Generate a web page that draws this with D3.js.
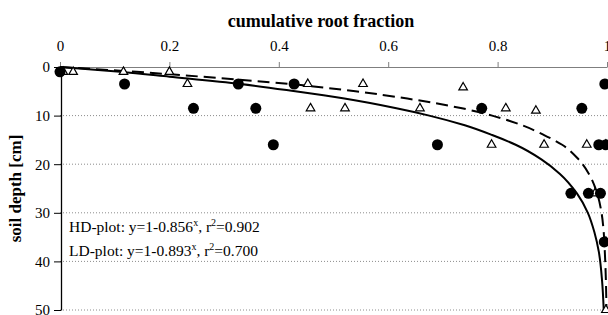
<!DOCTYPE html>
<html>
<head>
<meta charset="utf-8">
<script src="https://cdn.jsdelivr.net/npm/d3@7"></script>
<style>
  body { margin: 0; background: #fff; }
  svg, svg text { font-family: "Liberation Serif", "Times New Roman", serif; }
</style>
</head>
<body>
<div id="chart-area"></div>
<script>
const WIDTH = 608
const HEIGHT = 315
const MARGIN = {LEFT: 61, RIGHT: 1, TOP: 67, BOTTOM: 5}

// x ticks (fraction) and y ticks (depth)
const xTicks = [0, 0.2, 0.4, 0.6, 0.8, 1]
const yTicks = [0, 10, 20, 30, 40, 50]

// HD plot measurements (filled circles)
const hdDepth = [1, 3.5, 3.5, 3.5, 3.5, 8.5, 8.5, 8.5, 8.5, 16, 16, 16, 16, 26, 26, 26, 36]
const hdFrac  = [0, 0.118, 0.326, 0.428, 0.996, 0.244, 0.358, 0.771, 0.954, 0.39, 0.69, 0.985, 0.998, 0.934, 0.966, 0.988, 0.995]

// LD plot measurements (open triangles)
const ldDepth = [1, 1, 1, 1, 3.5, 3.5, 3.5, 4.2, 8.5, 8.5, 8.5, 8.5, 9, 16, 16, 16, 16, 26, 36, 50]
const ldFrac  = [0.006, 0.024, 0.116, 0.2, 0.233, 0.453, 0.554, 0.737, 0.458, 0.521, 0.658, 0.815, 0.87, 0.789, 0.885, 0.963, 0.998, 0.978, 0.998, 0.998]

// fitted curves
const curveDepth = [0, 1, 2, 3.5, 5, 6.5, 8.5, 10, 12, 14, 16, 19, 22, 26, 30, 34, 38, 44, 50]
const hdCurve = [0, 0.14, 0.26, 0.42, 0.54, 0.635, 0.735, 0.79, 0.845, 0.885, 0.918, 0.948, 0.967, 0.982, 0.99, 0.994, 0.996, 0.998, 0.999]
const ldCurve = [0, 0.11, 0.2, 0.33, 0.43, 0.52, 0.615, 0.675, 0.74, 0.79, 0.833, 0.88, 0.914, 0.945, 0.965, 0.977, 0.985, 0.991, 0.994]

const legendLines = [
  {label: "HD-plot: y=1-0.856", exp: "x", rest: ", r", exp2: "2", tail: "=0.902"},
  {label: "LD-plot: y=1-0.893", exp: "x", rest: ", r", exp2: "2", tail: "=0.700"}
]

const svg = d3.select("#chart-area").append("svg")
    .attr("width", WIDTH)
    .attr("height", HEIGHT)

const x = d3.scaleLinear().domain([0, 1]).range([MARGIN.LEFT - 1, WIDTH - MARGIN.RIGHT])
const y = d3.scaleLinear().domain([0, 50]).range([MARGIN.TOP, 310])

// dotted grid
svg.append("g").selectAll("line")
  .data(yTicks.slice(1))
  .enter().append("line")
    .attr("x1", x(0)).attr("x2", x(1))
    .attr("y1", d => y(d)).attr("y2", d => y(d))
    .attr("stroke", "#8c8c8c")
    .attr("stroke-width", 1)
    .attr("stroke-dasharray", "1,2")

// top x axis
const xAxis = svg.append("g")
  .attr("transform", `translate(0, ${y(0)})`)
  .call(d3.axisTop(x).tickValues(xTicks).tickSize(5).tickSizeOuter(0).tickFormat(d => d3.format("")(d)))
xAxis.select(".domain").attr("stroke", "#7f7f7f")
xAxis.selectAll(".tick line").attr("stroke", "#7f7f7f")
xAxis.selectAll("text")
  .attr("y", -16)
  .style("font-size", "15px")
  .style("font-family", "'Liberation Serif', serif")
  .attr("fill", "#000")

// left y axis
const yAxis = svg.append("g")
  .attr("transform", `translate(${x(0) + 1}, 0)`)
  .call(d3.axisLeft(y).tickValues(yTicks).tickSize(7).tickSizeOuter(0))
yAxis.select(".domain").attr("stroke", "#000").attr("stroke-width", 1.3)
yAxis.selectAll(".tick line").attr("stroke", "#000")
yAxis.selectAll("text")
  .attr("x", -11)
  .style("font-size", "15px")
  .style("font-family", "'Liberation Serif', serif")
  .attr("fill", "#000")

// titles
svg.append("text")
  .attr("x", 321)
  .attr("y", 27)
  .attr("text-anchor", "middle")
  .attr("font-size", "18px")
  .attr("font-weight", "bold")
  .text("cumulative root fraction")

svg.append("text")
  .attr("transform", `translate(21, ${(y(0) + y(50)) / 2}) rotate(-90)`)
  .attr("text-anchor", "middle")
  .attr("font-size", "17px")
  .attr("font-weight", "bold")
  .text("soil depth [cm]")

// fitted curves
const line = (vals) => d3.line()
  .x((d, i) => x(vals[i]))
  .y(d => y(d))
  .curve(d3.curveMonotoneY)(curveDepth)

svg.append("path")
  .attr("d", line(ldCurve))
  .attr("fill", "none")
  .attr("stroke", "#000")
  .attr("stroke-width", 2)

svg.append("path")
  .attr("d", line(hdCurve))
  .attr("fill", "none")
  .attr("stroke", "#000")
  .attr("stroke-width", 2)
  .attr("stroke-dasharray", "12,6")

// triangles
svg.append("g").selectAll("path")
  .data(ldDepth)
  .enter().append("path")
    .attr("d", d3.symbol(d3.symbolTriangle, 32))
    .attr("transform", (d, i) => `translate(${x(ldFrac[i])}, ${y(d)})`)
    .attr("fill", "#fff")
    .attr("stroke", "#000")
    .attr("stroke-width", 1.2)

// circles
svg.append("g").selectAll("circle")
  .data(hdDepth)
  .enter().append("circle")
    .attr("cx", (d, i) => x(hdFrac[i]))
    .attr("cy", d => y(d))
    .attr("r", 5.5)
    .attr("fill", "#000")

// legend text
const leg = svg.append("g").attr("font-size", "15.5px")
legendLines.forEach((l, i) => {
  const t = leg.append("text")
    .attr("x", 69)
    .attr("y", 232 + i * 24)
  t.append("tspan").text(l.label)
  t.append("tspan").attr("font-size", "10px").attr("dy", -6).text(l.exp)
  t.append("tspan").attr("dy", 6).text(l.rest)
  t.append("tspan").attr("font-size", "10px").attr("dy", -6).text(l.exp2)
  t.append("tspan").attr("dy", 6).text(l.tail)
})
</script>
</body>
</html>
